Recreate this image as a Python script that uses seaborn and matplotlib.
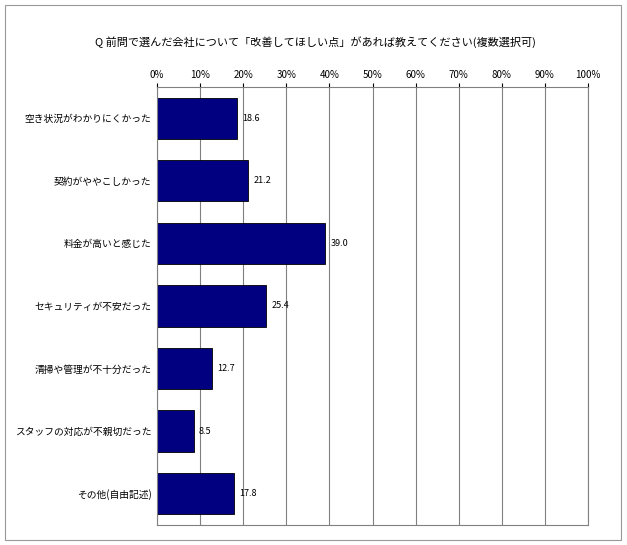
import matplotlib
matplotlib.use("Agg")
import matplotlib.pyplot as plt
import seaborn as sns
import pandas as pd
from matplotlib.patches import Rectangle

plt.rcParams['font.family'] = 'Noto Sans CJK JP'

categories = ['空き状況がわかりにくかった', '契約がややこしかった', '料金が高いと感じた',
              'セキュリティが不安だった', '清掃や管理が不十分だった',
              'スタッフの対応が不親切だった', 'その他(自由記述)']
values = [18.6, 21.2, 39.0, 25.4, 12.7, 8.5, 17.8]
ticks = list(range(0, 101, 10))

df = pd.DataFrame({'cat': categories, 'val': values})

fig = plt.figure(figsize=(6.27, 5.45), dpi=100)
fig.patches.append(Rectangle((0.008, 0.009), 0.982, 0.982, transform=fig.transFigure,
                             fill=False, edgecolor='#999999', linewidth=0.8))
ax = fig.add_axes([0.2504, 0.0367, 0.6874, 0.8037])
sns.barplot(data=df, x='val', y='cat', color='#000080', edgecolor='black',
            linewidth=0.6, width=0.66, saturation=1, ax=ax)

ax.set_xlim(0, 100)
ax.set_xticks(ticks)
ax.set_xticklabels([f'{t}%' for t in ticks], fontsize=7)
ax.xaxis.tick_top()
ax.tick_params(axis='x', length=3, pad=2)
ax.tick_params(axis='y', length=0, pad=4, labelsize=7)
ax.set_xlabel('')
ax.set_ylabel('')
ax.grid(axis='x', color='#808080', linewidth=0.8)
ax.set_axisbelow(True)
for s in ax.spines.values():
    s.set_color('#808080')
    s.set_linewidth(0.8)

for i, v in enumerate(values):
    ax.text(v + 1.2, i, f'{v:.1f}', va='center', ha='left', fontsize=6.5)

fig.text(0.503, 0.922, 'Q 前問で選んだ会社について「改善してほしい点」があれば教えてください(複数選択可)',
         ha='center', va='center', fontsize=8)

fig.savefig('out.png', dpi=100)
